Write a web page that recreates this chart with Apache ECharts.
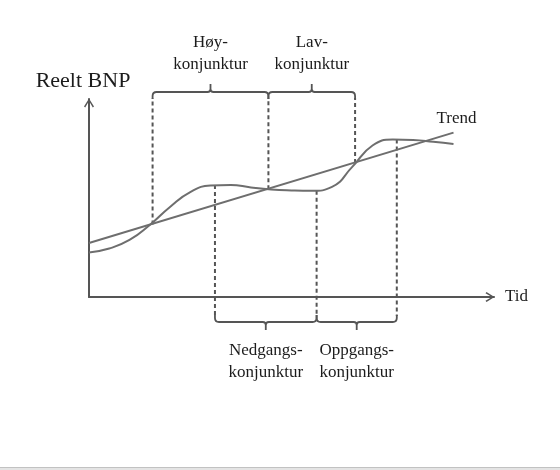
<!DOCTYPE html>
<html>
<head>
<meta charset="utf-8">
<script src="https://cdn.jsdelivr.net/npm/echarts@6/dist/echarts.min.js"></script>
<style>
html, body { margin: 0; padding: 0; background: #ffffff; }
#chart { width: 560px; height: 470px; }
</style>
</head>
<body>
<div id="chart"></div>
<script>
// Long-run trend of real GDP (time, level)
const trendPoints = [[0, 27.3], [90.0, 83.0]];

// Actual real GDP swinging around the trend
const gdpPoints = [
  [0, 22.5], [5, 24.5], [10, 28.8], [15, 36.4], [20, 45.5],
  [25, 53.0], [30, 56.3], [35, 56.6], [40, 55.3], [45, 54.3],
  [50, 53.8], [55, 53.6], [60, 55.6], [65, 65.7], [70, 76.5],
  [75, 79.5], [80, 79.3], [85, 78.4], [90, 77.3]
];

// Where GDP crosses the trend (start/end of boom and slump)
const crossings = [[15.7, 36.6], [44.3, 54.4], [65.7, 67.7]];
// Turning points: peak, trough, peak
const turningPoints = [[31.1, 56.6], [56.2, 53.7], [76.0, 79.6]];

const upperPhases = ['Høy-\nkonjunktur', 'Lav-\nkonjunktur'];
const lowerPhases = ['Nedgangs-\nkonjunktur', 'Oppgangs-\nkonjunktur'];

const axisLabels = { x: 'Tid', y: 'Reelt BNP', trend: 'Trend' };

const INK = '#555555';
const CURVE = '#6e6e6e';
const TEXT = '#1c1c1c';
const SERIF = '"Liberation Serif", "Times New Roman", serif';
// open arrow head, tip pointing up
const ARROW = 'path://M5,0 L10,8 L8.8,9 L5,2.6 L1.2,9 L0,8 Z';

// guide lines: side 1 = up to the upper braces, -1 = down to the lower braces
const guideData = crossings.map(p => [p[0], p[1], 1])
  .concat(turningPoints.map(p => [p[0], p[1], -1]));

// braces spanning two neighbouring boundaries
const braceData = [];
for (let i = 0; i < upperPhases.length; i++) {
  braceData.push([crossings[i][0], crossings[i + 1][0], 1, i]);
}
for (let i = 0; i < lowerPhases.length; i++) {
  braceData.push([turningPoints[i][0], turningPoints[i + 1][0], -1, i]);
}

function braceLevel(coordSys, side) {
  return side > 0 ? coordSys.y - 7 : coordSys.y + coordSys.height + 25;
}

function renderGuide(params, api) {
  const side = api.value(2);
  const p = api.coord([api.value(0), api.value(1)]);
  const yb = braceLevel(params.coordSys, side);
  const yEnd = side > 0 ? yb + 6 : yb - 6;
  return {
    type: 'line',
    shape: { x1: p[0], y1: p[1], x2: p[0], y2: yEnd },
    style: { stroke: INK, lineWidth: 2, lineDash: [4, 3] }
  };
}

function renderBrace(params, api) {
  const side = api.value(2);
  const idx = api.value(3);
  const x1 = api.coord([api.value(0), 0])[0];
  const x2 = api.coord([api.value(1), 0])[0];
  const xm = (x1 + x2) / 2;
  const yb = braceLevel(params.coordSys, side);
  const s = side; // +1: legs point down, tick points up
  const r = 4;
  const d = [
    'M', x1, yb + s * 7,
    'L', x1, yb + s * r,
    'Q', x1, yb, x1 + r, yb,
    'L', xm - 3, yb,
    'Q', xm, yb, xm, yb - s * 3,
    'L', xm, yb - s * 8,
    'M', xm, yb - s * 3,
    'Q', xm, yb, xm + 3, yb,
    'L', x2 - r, yb,
    'Q', x2, yb, x2, yb + s * r,
    'L', x2, yb + s * 7
  ].join(' ');
  const text = side > 0 ? upperPhases[idx] : lowerPhases[idx];
  return {
    type: 'group',
    children: [
      {
        type: 'path',
        shape: { pathData: d },
        style: { stroke: INK, lineWidth: 1.8, fill: null }
      },
      {
        type: 'text',
        x: xm,
        y: yb - s * (side > 0 ? 38 : 40),
        style: {
          text: text,
          align: 'center',
          verticalAlign: 'middle',
          fontFamily: SERIF,
          fontSize: 17,
          lineHeight: 22,
          fill: TEXT
        }
      }
    ]
  };
}

const chart = echarts.init(document.getElementById('chart'), null, { renderer: 'canvas' });

chart.setOption({
  animation: false,
  backgroundColor: '#ffffff',
  grid: { left: 89, top: 99, width: 405, height: 198 },
  xAxis: {
    type: 'value',
    min: 0,
    max: 100,
    name: axisLabels.x,
    nameLocation: 'end',
    nameGap: 11,
    nameTextStyle: { fontFamily: SERIF, fontSize: 17, color: TEXT },
    axisLine: {
      show: true,
      lineStyle: { color: INK, width: 2 },
      symbol: ['none', ARROW],
      symbolSize: [10, 9],
      symbolOffset: [0, -4]
    },
    axisTick: { show: false },
    axisLabel: { show: false },
    splitLine: { show: false }
  },
  yAxis: {
    type: 'value',
    min: 0,
    max: 100,
    name: axisLabels.y,
    nameLocation: 'end',
    nameGap: 7,
    nameTextStyle: { fontFamily: SERIF, fontSize: 22, color: TEXT, padding: [0, 12, 0, 0] },
    axisLine: {
      show: true,
      lineStyle: { color: INK, width: 2 },
      symbol: ['none', ARROW],
      symbolSize: [10, 9],
      symbolOffset: [0, -4]
    },
    axisTick: { show: false },
    axisLabel: { show: false },
    splitLine: { show: false }
  },
  series: [
    {
      type: 'line',
      data: trendPoints,
      showSymbol: false,
      lineStyle: { color: CURVE, width: 2 },
      markPoint: {
        symbol: 'circle',
        symbolSize: 0,
        label: {
          show: true,
          formatter: axisLabels.trend,
          position: 'top',
          distance: 6,
          offset: [3, 0],
          fontFamily: SERIF,
          fontSize: 17,
          color: TEXT
        },
        data: [{ coord: trendPoints[trendPoints.length - 1] }]
      }
    },
    {
      type: 'line',
      data: gdpPoints,
      smooth: 0.5,
      showSymbol: false,
      lineStyle: { color: CURVE, width: 2 }
    },
    {
      type: 'custom',
      clip: false,
      silent: true,
      data: guideData,
      renderItem: renderGuide
    },
    {
      type: 'custom',
      clip: false,
      silent: true,
      data: braceData,
      renderItem: renderBrace
    }
  ],
  graphic: [
    { type: 'rect', left: 0, top: 467, shape: { width: 560, height: 1 }, style: { fill: '#c2c2c2' } },
    { type: 'rect', left: 0, top: 468, shape: { width: 560, height: 2 }, style: { fill: '#e4e4e4' } }
  ]
});
</script>
</body>
</html>
